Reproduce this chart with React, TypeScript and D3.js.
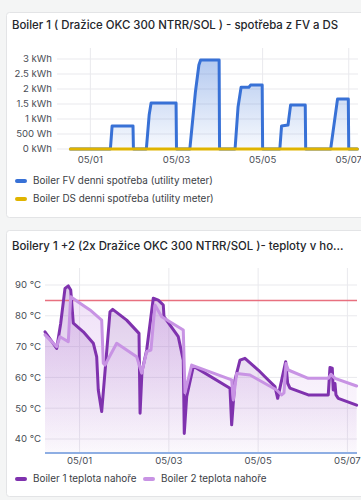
import React from "react";
import * as d3 from "d3";

// ---------- data ----------
const dayZero = new Date(2024, 4, 1); // 05/01 00:00
const toDate = (t: number) => new Date(dayZero.getTime() + t * 86400000);
const timeDomain = [-0.775, 6.215];

// Chart 1: daily energy (kWh), times in days from 05/01 00:00
const fvDays = [-0.465, 0.465, 0.505, 0.99, 1.0, 1.3, 1.365, 1.41, 1.99, 2.0, 2.31, 2.44, 2.52, 2.56, 2.99, 3.0, 3.36, 3.43, 3.5, 3.68, 3.72, 3.99, 4.0, 4.4, 4.44, 4.59, 4.65, 4.99, 5.0, 5.58, 5.74, 5.99, 6.0, 6.2];
const fvKWh = [0, 0, 0.77, 0.77, 0, 0, 1.13, 1.53, 1.53, 0, 0, 1.91, 2.8, 2.97, 2.97, 0, 0, 1.41, 2.06, 2.06, 2.13, 2.13, 0, 0, 0.77, 0.8, 1.47, 1.47, 0, 0, 1.67, 1.67, 0, 0];
const dsDays = [-0.465, 6.2];
const dsKWh = [0, 0];
const energyTicks = [0, 0.5, 1, 1.5, 2, 2.5, 3];
const energyTickLabels = ["0 kWh", "500 Wh", "1 kWh", "1.5 kWh", "2 kWh", "2.5 kWh", "3 kWh"];
const dateTicks = [0, 2, 4, 6];
const dateTickLabels = ["05/01", "05/03", "05/05", "05/07"];

// Chart 2: temperatures (°C)
const b1Days = [-0.775, -0.513, -0.423, -0.327, -0.253, -0.199, -0.141, 0.083, 0.307, 0.383, 0.419, 0.495, 0.681, 0.742, 1.055, 1.331, 1.355, 1.398, 1.503, 1.651, 1.763, 1.875, 1.891, 2.211, 2.323, 2.345, 2.399, 2.547, 2.623, 3.369, 3.407, 3.481, 3.593, 3.705, 4.003, 4.153, 4.377, 4.438, 4.617, 4.662, 4.713, 5.123, 5.571, 5.609, 5.661, 5.683, 5.722, 5.744, 5.795, 6.207];
const b1Temp = [74.8, 69.4, 77.6, 88.9, 89.7, 88.4, 77.6, 74.8, 71.1, 66.7, 55.9, 48.9, 81.3, 82.1, 78.6, 74.3, 48.4, 62, 68.9, 85.7, 85.1, 83.5, 79.7, 73.2, 65.6, 41.8, 53.7, 63.5, 63, 56.5, 44.6, 59.2, 65.6, 66.2, 62.4, 60.2, 57.0, 53.2, 65.1, 58.1, 56.5, 54.3, 54.3, 63.2, 63, 55.9, 58, 54.3, 53.2, 51];
const b2Days = [-0.775, -0.513, -0.439, -0.253, -0.199, 0.009, 0.233, 0.495, 0.531, 0.569, 0.831, 1.279, 1.391, 1.503, 1.599, 1.689, 1.839, 2.323, 2.361, 2.511, 3.407, 3.443, 3.519, 3.817, 4.415, 4.527, 4.579, 4.624, 4.675, 5.123, 5.571, 5.632, 5.722, 6.207];
const b2Temp = [73.8, 70, 73.2, 71.6, 86.2, 84.1, 81.9, 78.6, 64.6, 64, 71.1, 66.7, 61.4, 68.4, 68.9, 83.5, 79.7, 75.4, 55, 64, 59.2, 52.7, 61.3, 60.8, 55.9, 54.3, 55, 64.5, 62.4, 59.7, 59.7, 61, 59.7, 57.2];
const tempTicks = [40, 50, 60, 70, 80, 90];
const tempTickLabels = ["40 °C", "50 °C", "60 °C", "70 °C", "80 °C", "90 °C"];
const tempThreshold = 85;

const title1 = "Boiler 1 ( Dražice OKC 300 NTRR/SOL ) - spotřeba z FV a DS";
const title2 = "Boilery 1 +2 (2x Dražice OKC 300 NTRR/SOL )- teploty v ho...";
const legend1 = ["Boiler FV denni spotřeba (utility meter)", "Boiler DS denni spotřeba (utility meter)"];
const legend2 = ["Boiler 1 teplota nahoře", "Boiler 2 teplota nahoře"];

// ---------- styles ----------
const FONT = "Inter, 'Noto Sans', sans-serif";
const BLUE = "#3871d6";
const YELLOW = "#e0b400";
const PURPLE = "#7f32ae";
const LPURPLE = "#c893e4";
const GRID = "#e9e9ed";
const TICK = "#4a4e56";
const TITLE_SIZE = 11.4;
const TICK_SIZE = 9.6;
const LEGEND_SIZE = 9.9;

type Pt = { d: Date; v: number };
const zip = (ts: number[], vs: number[]): Pt[] => ts.map((t, i) => ({ d: toDate(t), v: vs[i] }));

export default function App() {
  // chart 1 scales
  const x1 = d3.scaleTime().domain(timeDomain.map(toDate)).range([57, 358]);
  const y1 = d3.scaleLinear().domain([0, 3]).range([149, 59]);
  const line1 = d3.line<Pt>().x((p) => x1(p.d)).y((p) => y1(p.v));
  const area1 = d3.area<Pt>().x((p) => x1(p.d)).y0(y1(0)).y1((p) => y1(p.v));
  const fv = zip(fvDays, fvKWh);
  const ds = zip(dsDays, dsKWh);

  // chart 2 scales
  const x2 = d3.scaleTime().domain(timeDomain.map(toDate)).range([45, 357]);
  const y2 = d3.scaleLinear().domain([40, 90]).range([439, 285]);
  const bottom2 = 453;
  const line2 = d3.line<Pt>().x((p) => x2(p.d)).y((p) => y2(p.v));
  const area2 = d3.area<Pt>().x((p) => x2(p.d)).y0(bottom2).y1((p) => y2(p.v));
  const b1 = zip(b1Days, b1Temp);
  const b2 = zip(b2Days, b2Temp);

  return (
    <svg
      width={361}
      height={500}
      style={{ position: "absolute", left: 0, top: 0, background: "#f4f5f5", fontFamily: FONT }}
    >
      <defs>
        <linearGradient id="gBlue" gradientUnits="userSpaceOnUse" x1={0} y1={y1(3)} x2={0} y2={y1(0)}>
          <stop offset="0" stopColor={BLUE} stopOpacity={0.38} />
          <stop offset="1" stopColor={BLUE} stopOpacity={0.04} />
        </linearGradient>
        <linearGradient id="gPurple" gradientUnits="userSpaceOnUse" x1={0} y1={y2(90)} x2={0} y2={bottom2}>
          <stop offset="0" stopColor={PURPLE} stopOpacity={0.28} />
          <stop offset="1" stopColor={PURPLE} stopOpacity={0.02} />
        </linearGradient>
        <linearGradient id="gLPurple" gradientUnits="userSpaceOnUse" x1={0} y1={y2(90)} x2={0} y2={bottom2}>
          <stop offset="0" stopColor={LPURPLE} stopOpacity={0.3} />
          <stop offset="1" stopColor={LPURPLE} stopOpacity={0.02} />
        </linearGradient>
      </defs>

      {/* Panel 1 */}
      <rect x={6.5} y={12.5} width={362} height={205} rx={3} fill="#fff" stroke="#e3e4e6" />
      <text x={12} y={29} fontSize={TITLE_SIZE} fontWeight={500} fill="#24262b">{title1}</text>
      {energyTicks.map((t, i) => (
        <g key={"e" + i}>
          <line x1={57} x2={358} y1={y1(t)} y2={y1(t)} stroke={GRID} />
          <text x={52} y={y1(t)} dy="0.35em" textAnchor="end" fontSize={TICK_SIZE} fill={TICK}>{energyTickLabels[i]}</text>
        </g>
      ))}
      {dateTicks.map((t, i) => (
        <g key={"d1" + i}>
          <line x1={x1(toDate(t))} x2={x1(toDate(t))} y1={48} y2={149} stroke={GRID} />
          <text x={x1(toDate(t))} y={163} textAnchor="middle" fontSize={TICK_SIZE} fill={TICK}>{dateTickLabels[i]}</text>
        </g>
      ))}
      <path d={area1(fv) || ""} fill="url(#gBlue)" />
      <path d={line1(fv) || ""} fill="none" stroke={BLUE} strokeWidth={3} strokeLinejoin="round" strokeLinecap="round" />
      <path d={line1(ds) || ""} fill="none" stroke={YELLOW} strokeWidth={3} strokeLinecap="round" />
      {legend1.map((s, i) => (
        <g key={"l1" + i}>
          <line x1={17} x2={25} y1={181 + i * 18} y2={181 + i * 18} stroke={i === 0 ? BLUE : YELLOW} strokeWidth={4} strokeLinecap="round" />
          <text x={33} y={181 + i * 18} dy="0.35em" fontSize={LEGEND_SIZE} fill="#3b3e45">{s}</text>
        </g>
      ))}

      {/* Panel 2 */}
      <rect x={6.5} y={230.5} width={362} height={266} rx={3} fill="#fff" stroke="#e3e4e6" />
      <text x={12} y={250} fontSize={TITLE_SIZE} fontWeight={500} fill="#24262b">{title2}</text>
      {tempTicks.map((t, i) => (
        <g key={"t" + i}>
          <line x1={45} x2={357} y1={y2(t)} y2={y2(t)} stroke={GRID} />
          <text x={41} y={y2(t)} dy="0.35em" textAnchor="end" fontSize={TICK_SIZE} fill={TICK}>{tempTickLabels[i]}</text>
        </g>
      ))}
      {dateTicks.map((t, i) => (
        <g key={"d2" + i}>
          <line x1={x2(toDate(t))} x2={x2(toDate(t))} y1={268} y2={bottom2} stroke={GRID} />
          <text x={x2(toDate(t))} y={464} textAnchor="middle" fontSize={TICK_SIZE} fill={TICK}>{dateTickLabels[i]}</text>
        </g>
      ))}
      <path d={area2(b1) || ""} fill="url(#gPurple)" />
      <path d={area2(b2) || ""} fill="url(#gLPurple)" />
      <line x1={45} x2={357} y1={y2(tempThreshold)} y2={y2(tempThreshold)} stroke="#e8707f" strokeWidth={1.5} />
      <line x1={45} x2={357} y1={bottom2} y2={bottom2} stroke="#8eaee3" strokeWidth={2} />
      <path d={line2(b1) || ""} fill="none" stroke={PURPLE} strokeWidth={3} strokeLinejoin="round" strokeLinecap="round" />
      <path d={line2(b2) || ""} fill="none" stroke={LPURPLE} strokeWidth={3} strokeLinejoin="round" strokeLinecap="round" />
      {legend2.map((s, i) => (
        <g key={"l2" + i}>
          <line x1={17 + i * 128} x2={25 + i * 128} y1={479} y2={479} stroke={i === 0 ? PURPLE : LPURPLE} strokeWidth={4} strokeLinecap="round" />
          <text x={33 + i * 128} y={479} dy="0.35em" fontSize={LEGEND_SIZE} fill="#3b3e45">{s}</text>
        </g>
      ))}
    </svg>
  );
}
